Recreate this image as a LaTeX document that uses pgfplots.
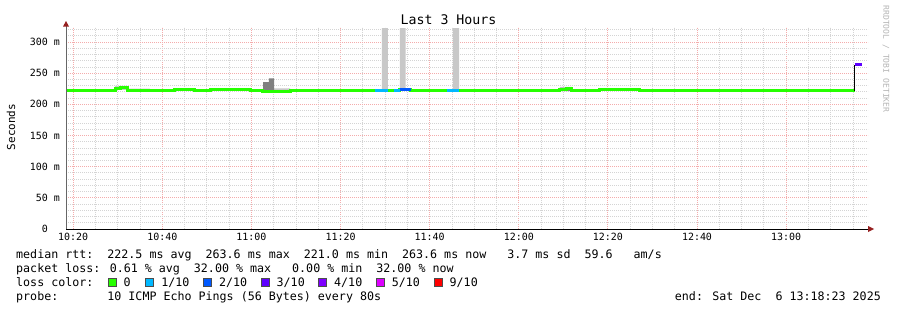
\documentclass[border=0pt]{standalone}
\usepackage{pgfplots}
\pgfplotsset{compat=1.18}
\usepackage{pgfplotstable}
\usepackage{fontspec}
\setmainfont{DejaVu Sans Mono}[WordSpace={1,0,0}]

\definecolor{lossA}{HTML}{26FF00}
\definecolor{lossB}{HTML}{00B8FF}
\definecolor{lossC}{HTML}{0059FF}
\definecolor{lossD}{HTML}{5E00FF}
\definecolor{lossE}{HTML}{7E00FF}
\definecolor{lossF}{HTML}{DD00FF}
\definecolor{lossG}{HTML}{FF0000}
\definecolor{mgrid}{HTML}{F4ACAC}
\definecolor{sgrid}{HTML}{D4D4D4}
\definecolor{smoke}{HTML}{C8C8C8}
\definecolor{smokedark}{HTML}{808080}
\definecolor{arrowred}{HTML}{962020}
\definecolor{wmark}{HTML}{B4B4B4}

% median (green, loss 0)
\pgfplotstableread{
t v
18.38 221.5
23.3 222.8
28.3 222
29.4 225.5
30.7 226.5
32.1 222
37.2 221.5
42.8 223
47.3 222
50.7 223
59.7 222.5
62.4 221
68.7 221.5
77.6 221.5
87.7 221.5
93.3 223
95.8 221.5
100 222
106.6 222.5
115.8 222
122.5 222.5
129.2 224.5
130.6 226
131.9 222.5
138.2 223.5
143.8 224
147.2 222.5
156.2 221.5
160.7 222.5
165.1 221.5
174.1 222
180.9 221.5
187.6 222.5
192.1 222
195.4 222
}\mediantab

\begin{document}
\begin{tikzpicture}
\path (0,0) rectangle (897bp,-310bp);
\begin{axis}[
  at={(66bp,-229bp)}, anchor=south west,
  width=802bp, height=202bp, scale only axis,
  xmin=18.38, xmax=198.38, ymin=0, ymax=324,
  axis line style={draw=none},
  xtick={20,40,...,180},
  xticklabels={10:20,10:40,11:00,11:20,11:40,12:00,12:20,12:40,13:00},
  minor xtick={25,30,35,45,50,55,65,70,75,85,90,95,105,110,115,125,130,135,145,150,155,165,170,175,185,190,195},
  ytick={0,50,...,300},
  yticklabels={0\phantom{~m},50~m,100~m,150~m,200~m,250~m,300~m},
  minor ytick={10,20,30,40,60,70,80,90,110,120,130,140,160,170,180,190,210,220,230,240,260,270,280,290,310,320},
  grid=both,
  major grid style={color=mgrid, dash pattern=on 1bp off 1bp, line width=0.8bp},
  minor grid style={color=sgrid, dash pattern=on 1bp off 1bp, line width=0.8bp},
  tick style={draw=none},
  xticklabel style={font=\fontsize{10}{12}\selectfont, inner sep=0pt, anchor=north, yshift=-4bp},
  yticklabel style={font=\fontsize{10}{12}\selectfont, inner sep=0pt, anchor=east, xshift=-6bp},
]
% smoke band (max values forward, min values backward)
\addplot[const plot, fill=smoke, draw=none, forget plot] coordinates {
(18.38,224)(23.3,224.5)(28.3,223.5)(29.4,229.5)(32.1,225)(37.2,224.5)(42.8,225)(47.3,223.5)(50.7,224.5)(59.7,224)(62.6,226)(65.1,225.5)(68.7,222.5)(77.6,223)(87.7,223)(89.3,322)(90.6,223)(93.3,322)(94.6,225)(95.8,224.5)(100,223)(105.2,322)(106.6,224.5)(115.8,223.5)(122.5,224)(129.2,228)(131.9,224.5)(138.2,225.5)(143.8,226)(147.2,224)(156.2,223)(160.7,224)(165.1,222.5)(174.1,223.5)(180.9,223)(187.6,224)(192.1,223)(195.4,223)
(195.4,220.5)(192.1,221)(187.6,220.5)(180.9,220.5)(174.1,220.5)(165.1,221)(160.7,220.5)(156.2,221)(147.2,222)(143.8,222)(138.2,221)(131.9,222)(129.2,221)(122.5,220.5)(115.8,221)(106.6,220.5)(105.2,220.5)(100,220.5)(95.8,221.5)(94.6,221.5)(93.3,220.5)(90.6,220.5)(89.3,220.5)(87.7,220.5)(77.6,220.5)(68.7,221)(65.1,219.5)(62.6,221)(59.7,221.5)(50.7,221)(47.3,221.5)(42.8,220.5)(37.2,221)(32.1,223)(29.4,221)(28.3,221.5)(23.3,220.5)(18.38,220.5)
};
\addplot[fill=smoke, draw=none, forget plot] coordinates {(195.4,264.5)(197.0,264.5)(197.0,262.5)(195.4,262.5)};
\addplot[const plot, fill=smokedark, draw=none, forget plot] coordinates {(62.6,235.6)(63.9,241.6)(65.1,241.6)(65.1,220)(62.6,220)};
\addplot[const plot, fill=smokedark, draw=none, forget plot] coordinates {(129.2,226.5)(131.9,226.5)(131.9,221)(129.2,221)};
\addplot[const plot, fill=smokedark, draw=none, forget plot] coordinates {(142.5,225.5)(144.5,225.5)(144.5,222)(142.5,222)};

% median line coloured by loss
\addplot[const plot, lossA, line width=3bp, line cap=butt] table[x=t, y=v] {\mediantab};
\addplot[const plot, lossB, line width=3bp, line cap=butt] coordinates {(87.7,221.5) (90.6,221.5)};
\addplot[const plot, lossB, line width=3bp, line cap=butt] coordinates {(92.0,221.5) (93.3,221.5)};
\addplot[const plot, lossC, line width=3bp, line cap=butt] coordinates {(93.3,223) (95.8,223)};
\addplot[const plot, lossB, line width=3bp, line cap=butt] coordinates {(103.9,222) (106.6,222)};
\addplot[black, line width=1bp] coordinates {(195.4,221) (195.4,263.6)};
\addplot[const plot, lossD, line width=2.5bp, line cap=butt] coordinates {(195.4,263.6) (197.0,263.6)};
\end{axis}

% axes with arrows
\draw[color=black!60, line width=1bp] (66bp,-229bp) -- (66bp,-26bp);
\fill[arrowred] (63bp,-26.5bp) -- (69bp,-26.5bp) -- (66bp,-21bp) -- cycle;
\draw[color=black, line width=1bp] (66bp,-229bp) -- (868bp,-229bp);
\fill[arrowred] (868bp,-226bp) -- (868bp,-232bp) -- (874bp,-229bp) -- cycle;

% title, axis label, watermark
\node[anchor=base, inner sep=0pt, font=\fontsize{13.3}{15}\selectfont] at (448.5bp,-24bp) {Last 3 Hours};
\node[rotate=90, inner sep=0pt, font=\fontsize{11}{13}\selectfont] at (11bp,-127bp) {Seconds};
\node[rotate=-90, inner sep=0pt, text=wmark, font=\fontsize{8.1}{10}\selectfont] at (886bp,-59bp) {RRDTOOL / TOBI OETIKER};

% legend
\begin{scope}[every node/.style={anchor=base west, inner sep=0pt, font=\fontsize{11.7}{14}\selectfont}]
\node at (16bp,-258bp) {median rtt:~~222.5 ms avg~~263.6 ms max~~221.0 ms min~~263.6 ms now~~~3.7 ms sd~~59.6~~~am/s};
\node at (16bp,-272bp) {packet loss: 0.61 \% avg~~32.00 \% max~~~0.00 \% min~~32.00 \% now};
\node at (16bp,-286bp) {loss color:};
\node at (16bp,-300bp) {probe:~~~~~~~10 ICMP Echo Pings (56 Bytes) every 80s};
\node[anchor=base east] at (881bp,-300bp) {end: Sat Dec~~6 13:18:23 2025};
\foreach \bx/\col in {108/lossA, 145.7/lossB, 203.3/lossC, 261/lossD, 318.5/lossE, 376.2/lossF, 434/lossG}{
  \filldraw[fill=\col, draw=black!70, line width=0.6bp] (\bx bp,-278.5bp) rectangle (\bx bp+8bp,-286bp);
}
\node at (123.5bp,-286bp) {0};
\node at (161.2bp,-286bp) {1/10};
\node at (218.8bp,-286bp) {2/10};
\node at (276.5bp,-286bp) {3/10};
\node at (334bp,-286bp) {4/10};
\node at (391.7bp,-286bp) {5/10};
\node at (449.5bp,-286bp) {9/10};
\end{scope}
\end{tikzpicture}
\end{document}
